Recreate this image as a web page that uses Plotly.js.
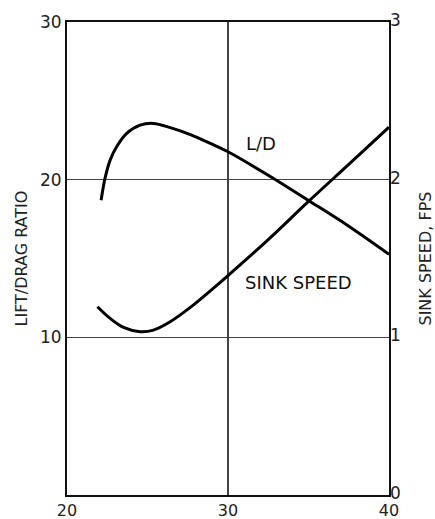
<!DOCTYPE html>
<html>
<head>
<meta charset="utf-8">
<script src="https://cdn.plot.ly/plotly-3.0.1.min.js"></script>
<style>html,body{margin:0;padding:0;background:#fff;}#chart{width:435px;height:519px;}</style>
</head>
<body>
<div id="chart"></div>
<script>
// Lift/drag ratio curve (left axis)
const ldX = [22.12, 22.36, 22.68, 23.09, 23.71, 24.54, 25.37, 26.41, 27.66, 28.9, 30.0, 32.5, 35.0, 37.5, 40.0];
const ldY = [18.7, 20.08, 21.24, 22.1, 22.94, 23.46, 23.57, 23.30, 22.86, 22.3, 21.77, 20.28, 18.68, 17.05, 15.27];
// Sink speed curve (right axis, fps)
const sinkX = [21.89, 22.68, 23.51, 24.54, 25.37, 26.41, 27.66, 28.9, 30.0, 32.5, 35.0, 37.5, 40.0];
const sinkY = [1.194, 1.12, 1.063, 1.036, 1.046, 1.099, 1.19, 1.295, 1.392, 1.62, 1.862, 2.097, 2.333];
const xTicks = [20, 30, 40];
const leftTicks = [10, 20, 30];
const rightTicks = [0, 1, 2, 3];

const tickFont = {family: 'DejaVu Sans, sans-serif', size: 17, color: '#222'};
const xTickFont = {family: 'DejaVu Sans, sans-serif', size: 16, color: '#222'};
const labelFont = {family: 'DejaVu Sans, sans-serif', size: 18, color: '#111'};
const titleFont = {family: 'DejaVu Sans, sans-serif', size: 16, color: '#222'};
const traces = [
  {x: ldX, y: ldY, mode: 'lines', line: {color: '#000', width: 3, shape: 'spline', smoothing: 1}, yaxis: 'y', hoverinfo: 'skip'},
  {x: sinkX, y: sinkY, mode: 'lines', line: {color: '#000', width: 3, shape: 'spline', smoothing: 1}, yaxis: 'y2', hoverinfo: 'skip'}
];
const layout = {
  width: 435, height: 519,
  margin: {l: 67, r: 46, t: 22, b: 24},
  paper_bgcolor: '#fff', plot_bgcolor: '#fff',
  showlegend: false,
  font: tickFont,
  xaxis: {range: [20, 40], tickvals: xTicks, ticks: '', showgrid: true, gridcolor: '#444', gridwidth: 1.5,
          showline: true, mirror: true, linecolor: '#111', linewidth: 2, zeroline: false, tickfont: xTickFont,
          ticklabelstandoff: 0},
  yaxis: {range: [0, 30], tickvals: leftTicks, ticks: '', showgrid: true, gridcolor: '#444', gridwidth: 1.5,
          showline: true, mirror: true, linecolor: '#111', linewidth: 2, zeroline: false, tickfont: tickFont},
  yaxis2: {range: [0, 3], tickvals: rightTicks, ticks: '', overlaying: 'y', side: 'right', showgrid: false,
           zeroline: false, showline: false, tickfont: tickFont, ticklabelshift: -2},
  annotations: [
    {text: 'L/D', x: 32.05, y: 22.3, xref: 'x', yref: 'y', showarrow: false, font: labelFont},
    {text: 'SINK SPEED', x: 34.4, y: 13.5, xref: 'x', yref: 'y', showarrow: false, font: labelFont},
    {text: 'LIFT/DRAG RATIO', x: 0, y: 0.5, xref: 'paper', yref: 'paper', xanchor: 'center', yanchor: 'middle',
     xshift: -46, textangle: -90, showarrow: false, font: titleFont},
    {text: 'SINK SPEED, FPS', x: 1, y: 0.5, xref: 'paper', yref: 'paper', xanchor: 'center', yanchor: 'middle',
     xshift: 36, textangle: -90, showarrow: false, font: titleFont}
  ]
};
Plotly.newPlot('chart', traces, layout, {staticPlot: true, displayModeBar: false});
</script>
</body>
</html>
